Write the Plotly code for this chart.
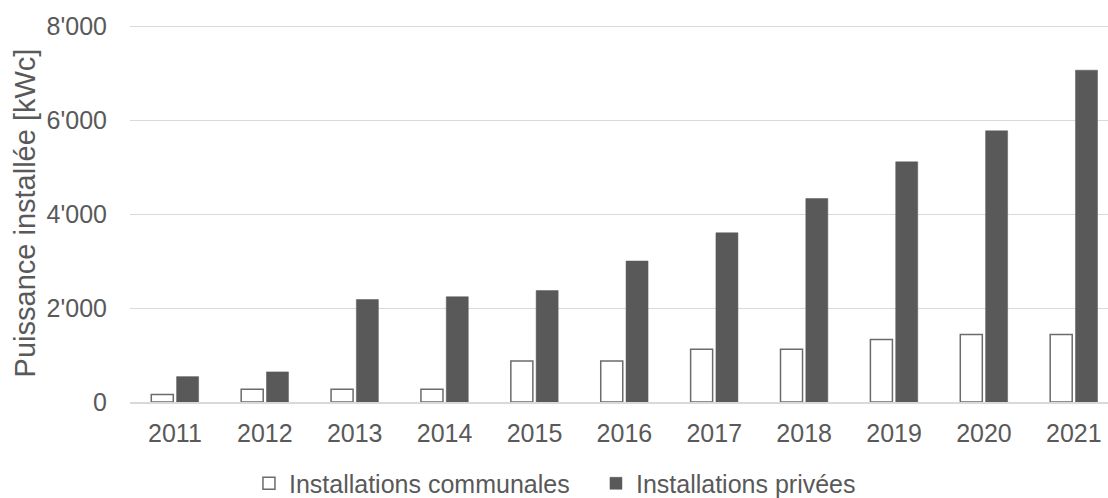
import plotly.graph_objects as go

years = ["2011", "2012", "2013", "2014", "2015", "2016", "2017", "2018", "2019", "2020", "2021"]
communales = [160, 270, 270, 270, 870, 870, 1120, 1120, 1330, 1435, 1435]
privees = [540, 640, 2180, 2240, 2370, 3000, 3600, 4330, 5110, 5770, 7060]
y_ticks = [0, 2000, 4000, 6000, 8000]

TXT = "#595959"
FONT = "Liberation Sans, Arial, sans-serif"

fig = go.Figure()
fig.add_trace(go.Bar(
    x=years, y=communales, name="Installations communales",
    marker=dict(color="white", line=dict(color="#6b6b6b", width=1.5)),
))
fig.add_trace(go.Bar(
    x=years, y=privees, name="Installations privées",
    marker=dict(color="#595959", line=dict(color="#595959", width=0.5)),
))

fig.update_layout(
    width=1108, height=498,
    margin=dict(l=130, r=0, t=24, b=96),
    paper_bgcolor="white", plot_bgcolor="white",
    barmode="group", bargap=0.437, bargroupgap=0.13,
    separators=".'",
    font=dict(family=FONT, color=TXT, size=25),
    showlegend=True,
    legend=dict(orientation="h", xref="container", x=0.2247, xanchor="left",
                yref="container", y=0.029, yanchor="middle",
                font=dict(size=25, color=TXT), itemwidth=30, traceorder="normal",
                entrywidthmode="pixels", entrywidth=302),
    xaxis=dict(range=[-0.5, 10.38], showgrid=False, showline=True, linecolor="#d9d9d9", linewidth=2,
               ticks="", tickfont=dict(size=25, color=TXT), ticklabelstandoff=8,
               automargin=False),
    yaxis=dict(range=[0, 8043], tickvals=y_ticks, tickformat=",",
               showgrid=True, gridcolor="#d9d9d9", gridwidth=1.3,
               zeroline=False, showline=False, ticks="",
               tickfont=dict(size=25, color=TXT), ticklabelstandoff=22,
               automargin=False,
               title=dict(text="Puissance installée [kWc]", font=dict(size=29, color=TXT),
                          standoff=2)),
)

fig.write_html("out.html", config={"displayModeBar": False},
               post_script="document.body.style.margin='0';")
